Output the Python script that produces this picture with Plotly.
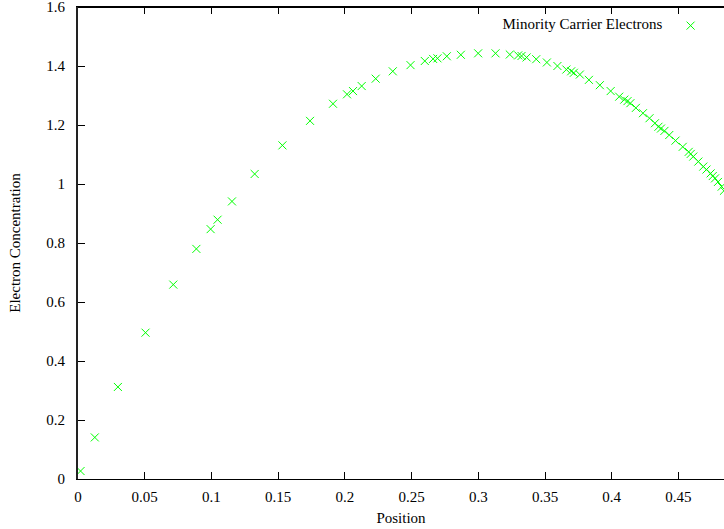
import plotly.graph_objects as go

# Data
position = [
    0.0019, 0.0126, 0.0299, 0.0506, 0.0714, 0.0887, 0.0994, 0.1046, 0.1154, 0.1324,
    0.1532, 0.1739, 0.1911, 0.2016, 0.2061, 0.2126, 0.2231, 0.2359, 0.2492, 0.2599,
    0.2661, 0.2694, 0.2764, 0.2869, 0.2999, 0.3129, 0.3236, 0.3299, 0.3324, 0.3362,
    0.3434, 0.3514, 0.3593, 0.3660, 0.3696, 0.3716, 0.3761, 0.3829, 0.3911, 0.3992,
    0.4056, 0.4094, 0.4118, 0.4140, 0.4181, 0.4234, 0.4283, 0.4324, 0.4350, 0.4369,
    0.4395, 0.4431, 0.4478, 0.4532, 0.4577, 0.4592, 0.4611, 0.4649, 0.4686, 0.4710,
    0.4741, 0.4757, 0.4774, 0.4796, 0.4824, 0.4841,
]
electron_conc = [
    0.027, 0.141, 0.312, 0.496, 0.659, 0.780, 0.847, 0.879, 0.941, 1.034,
    1.131, 1.214, 1.272, 1.304, 1.315, 1.332, 1.357, 1.382, 1.403, 1.417,
    1.424, 1.426, 1.433, 1.438, 1.443, 1.443, 1.439, 1.436, 1.434, 1.429,
    1.423, 1.412, 1.400, 1.388, 1.382, 1.377, 1.371, 1.353, 1.335, 1.315,
    1.296, 1.286, 1.281, 1.274, 1.258, 1.240, 1.223, 1.206, 1.194, 1.188,
    1.180, 1.166, 1.147, 1.126, 1.109, 1.102, 1.093, 1.076, 1.059, 1.049,
    1.036, 1.027, 1.019, 1.007, 0.991, 0.977,
]
x_range = [0, 0.48413]
y_range = [0, 1.6]
y_ticks = [0, 0.2, 0.4, 0.6, 0.8, 1, 1.2, 1.4, 1.6]
y_tick_labels = ["0", "0.2", "0.4", "0.6", "0.8", "1", "1.2", "1.4", "1.6"]
series_name = "Minority Carrier Electrons"
x_title = "Position"
y_title = "Electron Concentration"

FONT = "Liberation Serif, Times New Roman, serif"
FS = 15

fig = go.Figure()
fig.add_trace(go.Scatter(
    x=position, y=electron_conc, mode="markers", name=" ",
    marker=dict(symbol="x-thin", size=8, color="#00ff00",
                line=dict(color="#00ff00", width=1)),
    showlegend=True,
))

# top border line (gnuplot style box), drawn in data coordinates at the top of the y range
fig.add_shape(type="line", xref="x", yref="y", x0=x_range[0], x1=x_range[1],
              y0=y_range[1], y1=y_range[1],
              line=dict(color="#000000", width=2), layer="above")

fig.update_layout(
    width=724, height=529,
    margin=dict(l=78, r=0, t=7, b=50, autoexpand=False),
    paper_bgcolor="white", plot_bgcolor="white",
    font=dict(family=FONT, size=FS, color="#000"),
    showlegend=True,
    legend=dict(
        x=0.993, y=0.995, xanchor="right", yanchor="top",
        bgcolor="rgba(0,0,0,0)",
        title=dict(text=series_name, side="left", font=dict(family=FONT, size=FS)),
        font=dict(family=FONT, size=FS),
        itemwidth=30,
    ),
    xaxis=dict(
        range=x_range, dtick=0.05, tick0=0,
        showgrid=False, zeroline=False,
        showline=True, linecolor="#000", linewidth=1, mirror="allticks",
        ticks="inside", ticklen=7, tickcolor="#000", tickwidth=1,
        ticklabelstandoff=4,
        title=dict(text=x_title, standoff=8, font=dict(family=FONT, size=FS)),
    ),
    yaxis=dict(
        range=y_range, tickmode="array", tickvals=y_ticks, ticktext=y_tick_labels,
        showgrid=False, zeroline=False,
        showline=True, linecolor="#222", linewidth=2, mirror=False,
        ticks="inside", ticklen=7, tickcolor="#000", tickwidth=1,
        ticklabelstandoff=8, ticklabeloverflow="allow",
        title=dict(text=y_title, standoff=22, font=dict(family=FONT, size=FS)),
    ),
)

fig.write_html("out.html")
